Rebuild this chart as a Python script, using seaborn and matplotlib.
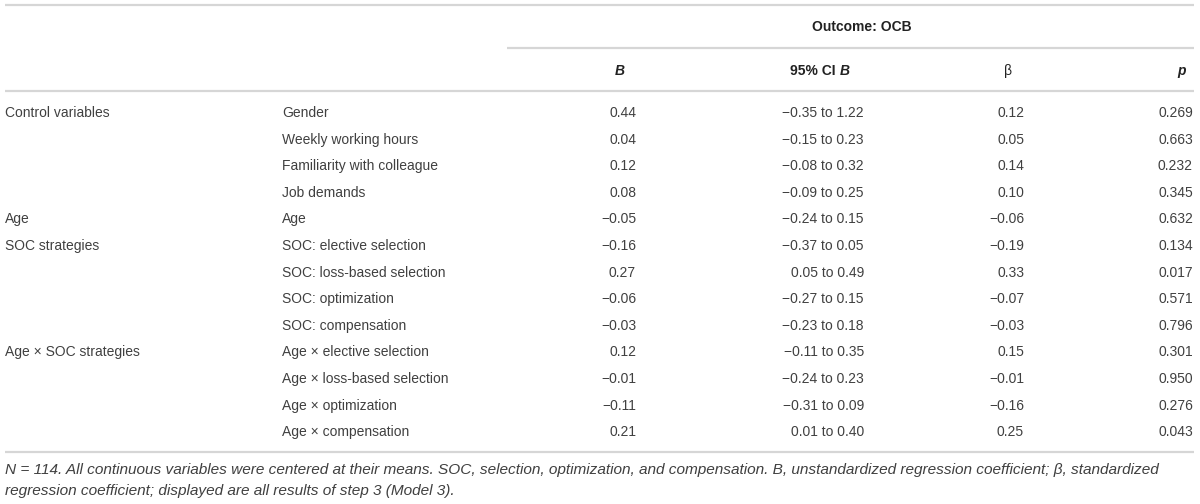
import matplotlib
matplotlib.use("Agg")
import matplotlib.pyplot as plt
import seaborn as sns
import numpy as np

# ---------------- data ----------------
groups = ["Control variables", "", "", "", "Age", "SOC strategies", "", "", "",
          "Age \u00d7 SOC strategies", "", "", ""]
variables = ["Gender", "Weekly working hours", "Familiarity with colleague", "Job demands",
             "Age", "SOC: elective selection", "SOC: loss-based selection",
             "SOC: optimization", "SOC: compensation",
             "Age \u00d7 elective selection", "Age \u00d7 loss-based selection",
             "Age \u00d7 optimization", "Age \u00d7 compensation"]
B_vals = [0.44, 0.04, 0.12, 0.08, -0.05, -0.16, 0.27, -0.06, -0.03, 0.12, -0.01, -0.11, 0.21]
ci_low = [-0.35, -0.15, -0.08, -0.09, -0.24, -0.37, 0.05, -0.27, -0.23, -0.11, -0.24, -0.31, 0.01]
ci_high = [1.22, 0.23, 0.32, 0.25, 0.15, 0.05, 0.49, 0.15, 0.18, 0.35, 0.23, 0.09, 0.40]
beta_vals = [0.12, 0.05, 0.14, 0.10, -0.06, -0.19, 0.33, -0.07, -0.03, 0.15, -0.01, -0.16, 0.25]
p_vals = [0.269, 0.663, 0.232, 0.345, 0.632, 0.134, 0.017, 0.571, 0.796, 0.301, 0.950, 0.276, 0.043]
outcome_label = "Outcome: OCB"
footnote1 = ("N = 114. All continuous variables were centered at their means. SOC, selection, "
             "optimization, and compensation. B, unstandardized regression coefficient; \u03b2, standardized")
footnote2 = "regression coefficient; displayed are all results of step 3 (Model 3)."

# ---------------- style ----------------
sns.set_theme(style="white")
plt.rcParams["font.family"] = ["Liberation Sans", "DejaVu Sans"]
TXT = "#404040"
HDR = "#222222"
RULE = "#d6d6d6"
FS = 10.0
FS_NOTE = 11.1


def fmt(v, nd=2):
    s = f"{abs(v):.{nd}f}"
    return ("\u2212" + s) if v < 0 else s


fig = plt.figure(figsize=(12, 5.04), dpi=100)
ax = fig.add_axes([0, 0, 1, 1])
ax.set_xlim(0, 1200)
ax.set_ylim(504, 0)
ax.axis("off")

# layout
x_left, x_right = 5, 1194
x_var = 282
x_B, x_CI, x_beta, x_p = 636, 864, 1024, 1193
row0, dy = 113, 26.6

# rules
ax.hlines([5, 91, 452], x_left, x_right, color=RULE, lw=1.6)
ax.hlines([48], 507, x_right, color=RULE, lw=1.6)

# headers
ax.text(862, 27, outcome_label, ha="center", va="center", fontsize=FS,
        fontweight="bold", color=HDR)
hy = 71
ax.text(620, hy, "B", ha="center", va="center", fontsize=FS, fontweight="bold",
        fontstyle="italic", color=HDR)
ax.text(836, hy, "95% CI", ha="right", va="center", fontsize=FS, fontweight="bold",
        color=HDR)
ax.text(840, hy, "B", ha="left", va="center", fontsize=FS, fontweight="bold",
        fontstyle="italic", color=HDR)
ax.text(1008, hy, "\u03b2", ha="center", va="center", fontsize=FS, color=HDR)
ax.text(1182, hy, "p", ha="center", va="center", fontsize=FS, fontweight="bold",
        fontstyle="italic", color=HDR)

# body
for i in range(len(variables)):
    y = row0 + i * dy
    if groups[i]:
        ax.text(x_left, y, groups[i], ha="left", va="center", fontsize=FS, color=TXT)
    ax.text(x_var, y, variables[i], ha="left", va="center", fontsize=FS, color=TXT)
    ax.text(x_B, y, fmt(B_vals[i]), ha="right", va="center", fontsize=FS, color=TXT)
    ax.text(x_CI, y, f"{fmt(ci_low[i])} to {fmt(ci_high[i])}", ha="right", va="center",
            fontsize=FS, color=TXT)
    ax.text(x_beta, y, fmt(beta_vals[i]), ha="right", va="center", fontsize=FS, color=TXT)
    ax.text(x_p, y, fmt(p_vals[i], 3), ha="right", va="center", fontsize=FS, color=TXT)

# footnote
ax.text(x_left, 470, footnote1, ha="left", va="center", fontsize=FS_NOTE, fontstyle="italic", color=TXT)
ax.text(x_left, 491, footnote2, ha="left", va="center", fontsize=FS_NOTE, fontstyle="italic", color=TXT)

fig.savefig("out.png", dpi=100)
